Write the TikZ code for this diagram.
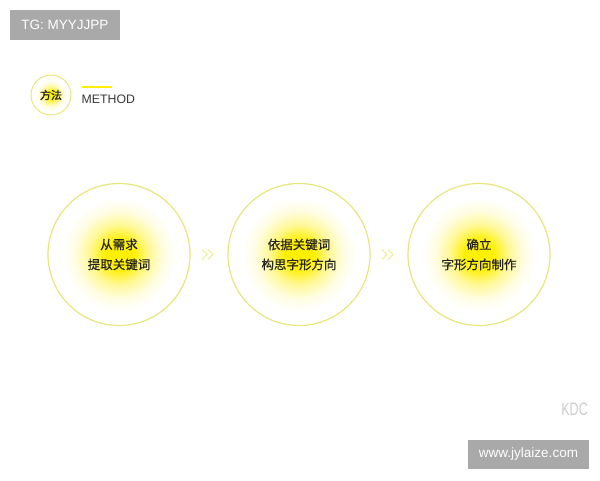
\documentclass[tikz,border=0pt]{standalone}
\usepackage{fontspec}
\setmainfont{Liberation Sans}
\newfontfamily\cjk[FakeBold=0.4]{Noto Sans CJK SC}
\newfontfamily\cjkbold[FakeBold=1.5]{Noto Sans CJK SC}
\usetikzlibrary{positioning}

\definecolor{tagbg}{RGB}{169,169,169}
\definecolor{glowy}{RGB}{255,240,0}
\definecolor{glowmid}{RGB}{255,248,150}
\definecolor{glowpale}{RGB}{255,253,225}
\definecolor{ringc}{RGB}{230,232,125}
\definecolor{chevc}{RGB}{236,236,140}
\definecolor{inkc}{RGB}{34,34,34}
\definecolor{kdcc}{RGB}{205,205,205}

% path box = middle 50bp of the shading, so the rim sits at 25bp
\pgfdeclareradialshading{glow}{\pgfpoint{0bp}{0bp}}{color(0bp)=(glowy); color(5bp)=(glowy); color(10.5bp)=(glowmid); color(15.5bp)=(glowpale); color(20bp)=(white); color(50bp)=(white)}

\tikzset{
  tagbox/.style={fill=tagbg, text=white, font=\fontsize{13.5}{13.5}\selectfont, inner sep=0pt},
  stepcircle/.style={circle, minimum size=142pt, inner sep=0pt, draw=ringc, line width=1.2pt,
    shading=glow, align=center, text=inkc, font=\cjk\fontsize{12.5}{20}\selectfont},
  chev/.style={draw=chevc, line width=1pt},
}

\begin{document}
\begin{tikzpicture}[x=1pt,y=-1pt]
        \fill[white] (0,0) rectangle (600,480);
        \useasboundingbox (0,0) rectangle (600,480);

        % tags
        \node[tagbox, minimum width=110pt, minimum height=30pt] (tg) at (65,25) {TG: MYYJJPP};
        \node[tagbox, minimum width=121pt, minimum height=29pt] (web) at (528.5,454.5) {www.jylaize.com};
        \node[anchor=base east, inner sep=0pt, text=kdcc, xscale=0.7, font=\fontsize{18}{18}\selectfont] (kdc) at (588,415) {KDC};

        % heading
        \node[circle, minimum size=40pt, inner sep=0pt, draw=ringc, line width=1pt, shading=glow, text=inkc] (fangfa) at (51,95) {\cjkbold\fontsize{11}{11}\selectfont 方法};
        \draw[glowy, line width=2pt] (82,87) -- (112,87);
        \node[anchor=base west, inner sep=0pt, text=inkc!90, font=\fontsize{12.3}{12.3}\selectfont] (method) at (81.5,103.3) {METHOD};

        % steps
        \node[stepcircle] (need) at (119,254.5) {从需求\\提取关键词};
        \node[stepcircle] (idea) at (299,254.5) {依据关键词\\构思字形方向};
        \node[stepcircle] (plan) at (479,254.5) {确立\\字形方向制作};

        \path (need) -- (idea) coordinate[midway] (ch1);
        \path (idea) -- (plan) coordinate[midway] (ch2);
        \draw[chev] (ch1) ++(-7,-5) -- ++(5,5) -- ++(-5,5);
        \draw[chev] (ch1) ++(-1,-5) -- ++(5,5) -- ++(-5,5);
        \draw[chev] (ch2) ++(-7,-5) -- ++(5,5) -- ++(-5,5);
        \draw[chev] (ch2) ++(-1,-5) -- ++(5,5) -- ++(-5,5);
\end{tikzpicture}
\end{document}
